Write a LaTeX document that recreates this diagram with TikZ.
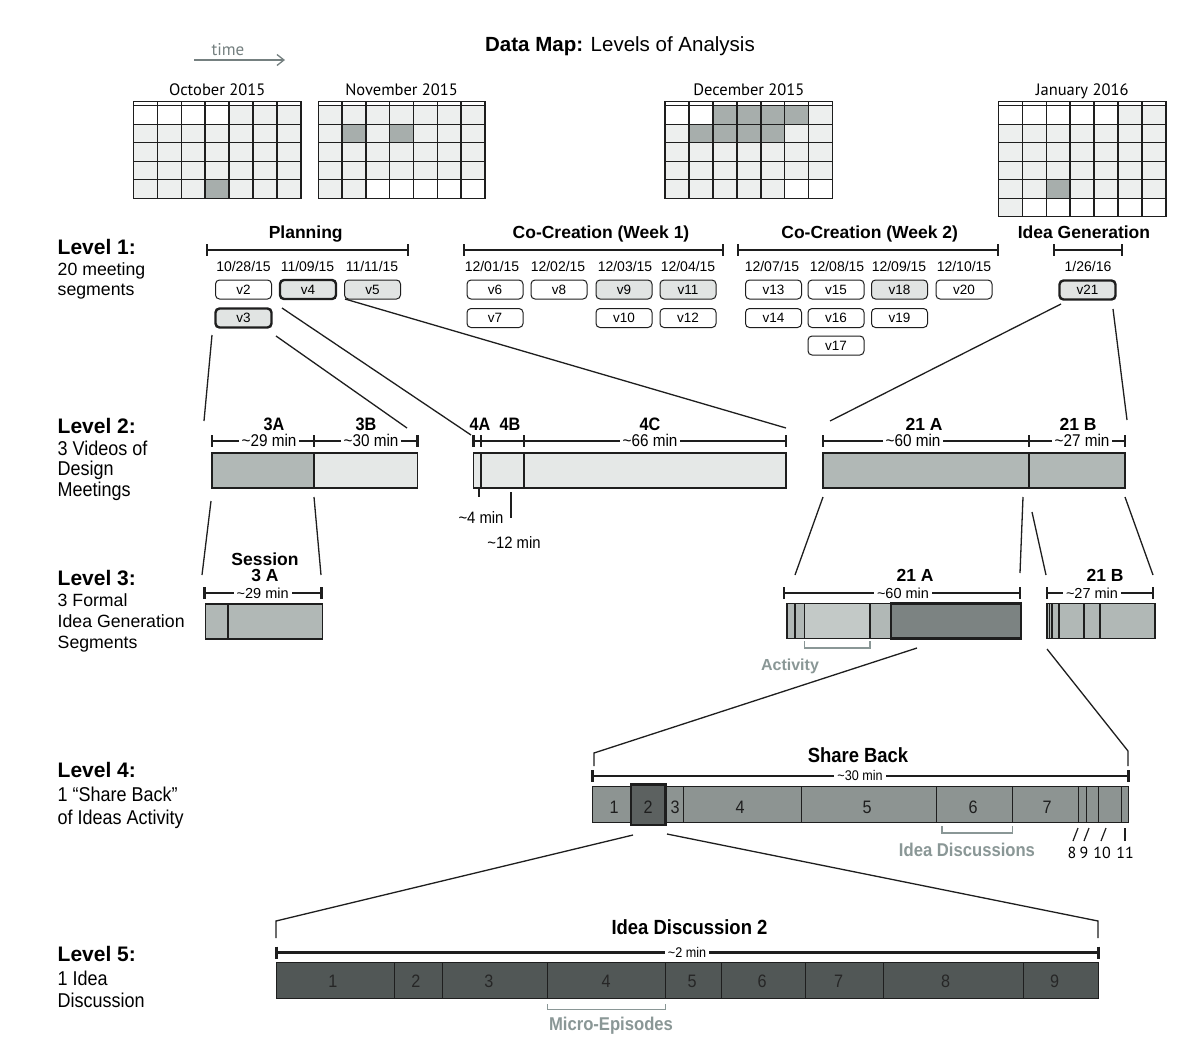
\documentclass[tikz,border=0pt]{standalone}
\usepackage{fontspec}
\setmainfont{Liberation Sans}
\newfontfamily\hvc[FakeStretch=0.9]{Liberation Sans}
\newfontfamily\myr{PT Sans}
\usetikzlibrary{arrows.meta}
\definecolor{calL}{HTML}{EDEFEE}
\definecolor{calD}{HTML}{A7AEAC}
\definecolor{boxG}{HTML}{E1E4E3}
\definecolor{barM}{HTML}{B1B8B6}
\definecolor{barL}{HTML}{E5E8E7}
\definecolor{barMid}{HTML}{C3C9C7}
\definecolor{barD}{HTML}{7C8382}
\definecolor{barF}{HTML}{8D9492}
\definecolor{barFF}{HTML}{5C6160}
\definecolor{barX}{HTML}{515756}
\definecolor{annot}{HTML}{8A9796}
\definecolor{ink}{HTML}{1E1E1E}
\tikzset{
  calline/.style={draw=ink, line width=1.4pt},
  month/.style={anchor=base, inner sep=0, font=\myr\fontsize{16.5}{16}\selectfont},
  lvl/.style={anchor=base west, inner sep=0, font=\bfseries\fontsize{21}{21}\selectfont},
  lvlsub/.style={anchor=base west, inner sep=0, font=\fontsize{17.7}{17}\selectfont},
  lvlsubc/.style={anchor=base west, inner sep=0, font=\hvc\fontsize{20}{20}\selectfont},
  phase/.style={anchor=base, inner sep=0, font=\bfseries\fontsize{17.5}{17}\selectfont},
  date/.style={anchor=base, inner sep=0, font=\fontsize{14}{14}\selectfont},
  vbox/.style={draw=ink, rounded corners=4pt, minimum width=56pt, minimum height=19pt, inner sep=0, line width=1pt, font=\fontsize{13.5}{13}\selectfont, fill=white},
  vgray/.style={vbox, fill=boxG},
  vbold/.style={line width=2.4pt},
  seg/.style={anchor=base, inner sep=0, font=\hvc\bfseries\fontsize{18}{18}\selectfont},
  segb/.style={anchor=base, inner sep=0, font=\bfseries\fontsize{17.5}{17}\selectfont},
  dur/.style={anchor=base, inner xsep=3pt, inner ysep=1pt, fill=white, font=\hvc\fontsize{17}{17}\selectfont},
  durs/.style={anchor=base, inner xsep=3pt, inner ysep=1pt, fill=white, font=\hvc\fontsize{14}{14}\selectfont},
  num/.style={anchor=base, inner sep=0, font=\hvc\fontsize{18}{18}\selectfont, text=ink},
  ann/.style={anchor=base, inner sep=0, text=annot, font=\hvc\bfseries\fontsize{18.5}{18}\selectfont},
  brk/.style={draw=ink, line width=2.6pt},
  conn/.style={draw=ink, line width=1.3pt},
  bar/.style={draw=ink, line width=1.3pt},
  divl/.style={draw=ink, line width=1.2pt},
  annbrk/.style={draw=annot, line width=1.4pt},
}
\newcommand{\drawcal}[8]{%
  \pgfmathsetmacro{\calw}{(#3-#2)/7}%
  \pgfmathsetmacro{\calb}{105.7+#4*18.5}%
  \pgfmathtruncatemacro{\calR}{#4-1}%
  \fill[white] (#2,101.7) rectangle (#3,\calb);
  \foreach \r in {1,...,#4}{%
    \foreach \c in {0,...,6}{%
      \pgfmathtruncatemacro{\dd}{(\r-1)*7+\c-#5+1}%
      \ifnum\dd>0 \ifnum\dd<\numexpr#6+1\relax
        \fill[calL] ({#2+\c*\calw},{105.7+(\r-1)*18.5}) rectangle ++(\calw,18.5);
      \fi\fi
    }%
  }%
  \foreach \d in {#7}{%
    \pgfmathtruncatemacro{\ii}{\d+#5-1}%
    \pgfmathtruncatemacro{\rr}{floor(\ii/7)}%
    \pgfmathtruncatemacro{\cc}{\ii-7*\rr}%
    \fill[calD] ({#2+\cc*\calw},{105.7+\rr*18.5}) rectangle ++(\calw,18.5);
  }%
  \foreach \c in {1,...,6}{\draw[calline] ({#2+\c*\calw},101.7) -- ({#2+\c*\calw},\calb);}%
  \foreach \r in {0,...,\calR}{\draw[calline] (#2,{105.7+\r*18.5}) -- (#3,{105.7+\r*18.5});}%
  \draw[calline] (#2,101.7) rectangle (#3,\calb);
  \node[month] (#1) at ({(#2+#3)/2},95.7) {#8};
}
\newcommand{\hbrk}[4][]{%
  \draw[brk,#1] (#2,#4) -- (#3,#4) (#2,#4-6) -- (#2,#4+6) (#3,#4-6) -- (#3,#4+6);}
\newcommand{\vtick}[3][]{\draw[brk,#1] (#2,#3-6) -- (#2,#3+6);}
\begin{document}
\begin{tikzpicture}[x=1pt,y=-1pt]
\useasboundingbox (0,0) rectangle (1200,1053);
\fill[white] (0,0) rectangle (1200,1053);

% title and time arrow
\node[anchor=base, inner sep=0, font=\fontsize{20.5}{21}\selectfont] (title) at (620,51) {\textbf{Data Map:} Levels of Analysis};
\node[anchor=base, inner sep=0, text=annot!85!black, font=\myr\fontsize{17}{17}\selectfont] (time) at (228,55) {time};
\coordinate (ta) at (194,60);
\coordinate (tb) at (285,60);
\draw[draw=annot!85!black, line width=1.3pt, -{Straight Barb[length=7pt,width=11pt]}] (ta) -- (tb);

% calendars
\drawcal{calOct}{133.3}{301}{5}{4}{31}{28}{October 2015}
\drawcal{calNov}{318.3}{485}{5}{0}{30}{9,11}{November 2015}
\drawcal{calDec}{665}{832.7}{5}{2}{31}{1,2,3,4,7,8,9,10}{December 2015}
\drawcal{calJan}{998.3}{1166}{6}{5}{31}{26}{January 2016}

% level labels
\node[lvl] (l1) at (57.5,254) {Level 1:};
\node[lvlsub] (l1a) at (57.5,275.7) {20 meeting};
\node[lvlsub] (l1b) at (57.5,295.5) {segments};
\node[lvl] (l2) at (57.5,433.3) {Level 2:};
\node[lvlsubc] (l2a) at (57.5,455) {3 Videos of};
\node[lvlsubc] (l2b) at (57.5,475.5) {Design};
\node[lvlsubc] (l2c) at (57.5,496) {Meetings};
\node[lvl] (l3) at (57.5,585) {Level 3:};
\node[lvlsub] (l3a) at (57.5,606) {3 Formal};
\node[lvlsub] (l3b) at (57.5,627.3) {Idea Generation};
\node[lvlsub] (l3c) at (57.5,648.3) {Segments};
\node[lvl] (l4) at (57.5,777.3) {Level 4:};
\node[lvlsubc] (l4a) at (57.5,801) {1 “Share Back”};
\node[lvlsubc] (l4b) at (57.5,824) {of Ideas Activity};
\node[lvl] (l5) at (57.5,961.7) {Level 5:};
\node[lvlsubc] (l5a) at (57.5,985) {1 Idea};
\node[lvlsubc] (l5b) at (57.5,1007.3) {Discussion};

% level 1 phases
\node[phase] (pPlan) at (305.7,238.5) {Planning};
\node[phase] (pW1) at (601,238.5) {Co-Creation (Week 1)};
\node[phase] (pW2) at (869.7,238.5) {Co-Creation (Week 2)};
\node[phase] (pIG) at (1084,238.5) {Idea Generation};
\hbrk{207}{408}{250}
\hbrk{463.8}{723}{250}
\hbrk{738}{998}{250}
\hbrk{1054}{1122}{250}

% dates
\node[date] (d1) at (243.5,271) {10/28/15};
\node[date] (d2) at (307.5,271) {11/09/15};
\node[date] (d3) at (372,271) {11/11/15};
\node[date] (d4) at (492,271) {12/01/15};
\node[date] (d5) at (558,271) {12/02/15};
\node[date] (d6) at (625,271) {12/03/15};
\node[date] (d7) at (688,271) {12/04/15};
\node[date] (d8) at (772,271) {12/07/15};
\node[date] (d9) at (837,271) {12/08/15};
\node[date] (d10) at (899,271) {12/09/15};
\node[date] (d11) at (964,271) {12/10/15};
\node[date] (d12) at (1088,271) {1/26/16};

% meeting boxes
\node[vbox] (v2) at (243.5,289.5) {v2};
\node[vgray,vbold] (v4) at (308,289.5) {v4};
\node[vgray] (v5) at (372.5,289.5) {v5};
\node[vgray,vbold] (v3) at (243.5,318) {v3};
\node[vbox] (v6) at (495,289.5) {v6};
\node[vbox] (v8) at (559,289.5) {v8};
\node[vgray] (v9) at (624,289.5) {v9};
\node[vgray] (v11) at (688,289.5) {v11};
\node[vbox] (v7) at (495,318) {v7};
\node[vbox] (v10) at (624,318) {v10};
\node[vbox] (v12) at (688,318) {v12};
\node[vbox] (v13) at (773.5,289.5) {v13};
\node[vbox] (v15) at (836,289.5) {v15};
\node[vgray] (v18) at (899.5,289.5) {v18};
\node[vbox] (v20) at (964,289.5) {v20};
\node[vbox] (v14) at (773.5,318) {v14};
\node[vbox] (v16) at (836,318) {v16};
\node[vbox] (v19) at (899.5,318) {v19};
\node[vbox] (v17) at (836,345.5) {v17};
\node[vgray,vbold] (v21) at (1087.5,290) {v21};

% ===== Level 2 =====
\node[seg] (s3A) at (274,430) {3A};
\node[seg] (s3B) at (366,430) {3B};
\node[seg] (s4A) at (480,430) {4A};
\node[seg] (s4B) at (510,430) {4B};
\node[seg] (s4C) at (650,430) {4C};
\node[segb] (s21A) at (924,430.5) {21 A};
\node[segb] (s21B) at (1078,430.5) {21 B};
\hbrk{212}{417.5}{441}
\vtick{314}{441}
\hbrk{473.7}{786}{441}
\vtick{481}{441}
\vtick{524}{441}
\hbrk{823}{1125}{441}
\vtick{1029}{441}
\node[dur] (m29) at (269,446.5) {\textasciitilde 29 min};
\node[dur] (m30) at (371,446.5) {\textasciitilde 30 min};
\node[dur] (m66) at (650,446.5) {\textasciitilde 66 min};
\node[dur] (m60) at (913,446.5) {\textasciitilde 60 min};
\node[dur] (m27) at (1082,446.5) {\textasciitilde 27 min};
% bars
\fill[barM] (212,453) rectangle (314,488);
\fill[barL] (314,453) rectangle (417.5,488);
\draw[bar] (212,453) rectangle (417.5,488);
\draw[divl] (314,453) -- (314,488);
\fill[barL] (473.7,453) rectangle (786,488);
\draw[bar] (473.7,453) rectangle (786,488);
\draw[divl] (481,453) -- (481,488);
\draw[divl] (524,453) -- (524,488);
\fill[barM] (823,453) rectangle (1125,488);
\draw[bar] (823,453) rectangle (1125,488);
\draw[draw=ink, line width=2pt] (1029,453) -- (1029,488);
% small ticks below 4
\coordinate (t4a) at (479,489);
\coordinate (t4b) at (479,497);
\coordinate (t12a) at (511,492);
\coordinate (t12b) at (511,518);
\draw[divl] (t4a) -- (t4b);
\draw[divl] (t12a) -- (t12b);
\node[anchor=base, inner sep=0, font=\hvc\fontsize{16.5}{16}\selectfont] (m4) at (481,523) {\textasciitilde 4 min};
\node[anchor=base, inner sep=0, font=\hvc\fontsize{16.5}{16}\selectfont] (m12) at (514,548) {\textasciitilde 12 min};

% ===== Level 3 =====
\node[segb] (sess) at (265,565) {Session};
\node[segb] (sess3A) at (265,581.7) {3 A};
\hbrk{204.3}{321.7}{593}
\node[dur, font=\fontsize{14.5}{14}\selectfont] (m29b) at (262.7,598) {\textasciitilde 29 min};
\fill[barM] (205.7,604) rectangle (322.7,639);
\draw[bar] (205.7,604) rectangle (322.7,639);
\draw[draw=ink, line width=1.8pt] (228.3,604) -- (228.3,639);

\node[segb] (t21A) at (915,581.7) {21 A};
\node[segb] (t21B) at (1105,581.7) {21 B};
\hbrk{784}{1020}{593}
\hbrk{1047}{1153}{593}
\node[dur, font=\fontsize{14.5}{14}\selectfont] (m60b) at (903,598) {\textasciitilde 60 min};
\node[dur, font=\fontsize{14.5}{14}\selectfont] (m27b) at (1092,598) {\textasciitilde 27 min};
\fill[barM] (787,603.5) rectangle (1021,638.5);
\fill[barMid] (804.3,603.5) rectangle (870,638.5);
\draw[bar] (787,603.5) rectangle (1021,638.5);
\draw[divl] (795,603.5) -- (795,638.5);
\draw[divl] (804.3,603.5) -- (804.3,638.5);
\draw[divl] (870,603.5) -- (870,638.5);
\fill[barD] (891,603.5) rectangle (1021,638.5);
\draw[draw=ink, line width=2.8pt] (891,603.5) rectangle (1021,638.5);
\fill[barM] (1047,603.5) rectangle (1155,638.5);
\draw[bar] (1047,603.5) rectangle (1155,638.5);
\foreach \xx in {1049.5,1052,1059,1084,1100} \draw[divl] (\xx,603.5) -- (\xx,638.5);
% activity
\draw[annbrk] (804.3,641) -- (804.3,648) -- (870,648) -- (870,641);
\node[anchor=base, inner sep=0, text=annot, font=\bfseries\fontsize{16}{16}\selectfont] (act) at (790,670) {Activity};

% ===== Level 4 =====
\node[anchor=base, inner sep=0, font=\hvc\bfseries\fontsize{20.5}{20}\selectfont] (shb) at (858,762) {Share Back};
\hbrk{592.7}{1128.7}{776}
\node[durs] (m30b) at (860,780.5) {\textasciitilde 30 min};
\fill[barF] (592.7,786.7) rectangle (1128.7,822.7);
\draw[bar] (592.7,786.7) rectangle (1128.7,822.7);
\foreach \xx in {683.6,801.5,936.7,1012.4,1078.5,1086.7,1098.3,1121.7} \draw[divl] (\xx,786.7) -- (\xx,822.7);
\fill[barFF] (631,784.5) rectangle (665.5,825);
\draw[draw=ink, line width=2.6pt] (631,784.5) rectangle (665.5,825);
\node[num] (n41) at (614,813.5) {1};
\node[num] (n42) at (648,813.5) {2};
\node[num] (n43) at (675,813.5) {3};
\node[num] (n44) at (740,813.5) {4};
\node[num] (n45) at (867,813.5) {5};
\node[num] (n46) at (973,813.5) {6};
\node[num] (n47) at (1047,813.5) {7};
\draw[annbrk] (942,826) -- (942,833) -- (1012.4,833) -- (1012.4,826);
\node[ann] (idisc) at (967,856) {Idea Discussions};
\draw[divl] (1073,841) -- (1078,828);
\draw[divl] (1084,841) -- (1089,828);
\draw[divl] (1101,841) -- (1106,828);
\draw[divl] (1125,841) -- (1125,828);
\node[anchor=base, inner sep=0, font=\myr\fontsize{16}{16}\selectfont] (n8) at (1072,858) {8};
\node[anchor=base, inner sep=0, font=\myr\fontsize{16}{16}\selectfont] (n9) at (1084,858) {9};
\node[anchor=base, inner sep=0, font=\myr\fontsize{16}{16}\selectfont] (n10) at (1102,858) {10};
\node[anchor=base, inner sep=0, font=\myr\fontsize{16}{16}\selectfont] (n11) at (1125,858) {11};

% ===== Level 5 =====
\node[anchor=base, inner sep=0, font=\hvc\bfseries\fontsize{20.5}{20}\selectfont] (id2) at (689.5,934) {Idea Discussion 2};
\hbrk{276.4}{1098.2}{952.7}
\node[durs] (m2) at (687,957) {\textasciitilde 2 min};
\fill[barX] (276.4,962.7) rectangle (1098.2,998.3);
\draw[bar] (276.4,962.7) rectangle (1098.2,998.3);
\foreach \xx in {394.2,442.2,547.6,665.5,721.5,805.8,883.6,1023.3} \draw[divl] (\xx,962.7) -- (\xx,998.3);
\foreach \xx/\nn in {333/1,416/2,489/3,606/4,692/5,762/6,838.5/7,945.5/8,1054.5/9}
  \node[num, text=black!85] (m5n\nn) at (\xx,987) {\nn};
\draw[annbrk] (547.6,1004) -- (547.6,1009.3) -- (665.5,1009.3) -- (665.5,1004);
\node[ann] (micro) at (611,1030) {Micro-Episodes};

% ===== connectors =====
\coordinate (a1) at (212,335);  \coordinate (b1) at (204,421);
\coordinate (a2) at (276,336);  \coordinate (b2) at (407,428);
\coordinate (a3) at (282,308);  \coordinate (b3) at (471,435);
\coordinate (a4) at (345,299);  \coordinate (b4) at (786,428);
\coordinate (a5) at (1061,304); \coordinate (b5) at (830,421);
\coordinate (a6) at (1113,309); \coordinate (b6) at (1127,420);
\draw[conn] (a1) -- (b1);
\draw[conn] (a2) -- (b2);
\draw[conn] (a3) -- (b3);
\draw[conn] (a4) -- (b4);
\draw[conn] (a5) -- (b5);
\draw[conn] (a6) -- (b6);

\coordinate (e1) at (211,501);  \coordinate (f1) at (202,575);
\coordinate (e2) at (314,497);  \coordinate (f2) at (321,575);
\coordinate (e3) at (823,497);  \coordinate (f3) at (795,575);
\coordinate (e4) at (1023,497); \coordinate (f4) at (1020,573);
\coordinate (e5) at (1032,512); \coordinate (f5) at (1046,575);
\coordinate (e6) at (1125,497); \coordinate (f6) at (1153,575);
\draw[conn] (e1) -- (f1);
\draw[conn] (e2) -- (f2);
\draw[conn] (e3) -- (f3);
\draw[conn] (e4) -- (f4);
\draw[conn] (e5) -- (f5);
\draw[conn] (e6) -- (f6);

\coordinate (g1) at (917,648);  \coordinate (h1) at (594,753);  \coordinate (k1) at (594,766);
\coordinate (g2) at (1047,649); \coordinate (h2) at (1128,751); \coordinate (k2) at (1128,766);
\draw[conn] (g1) -- (h1) -- (k1);
\draw[conn] (g2) -- (h2) -- (k2);

\coordinate (p1) at (633,835);  \coordinate (q1) at (276,921);  \coordinate (r1) at (276,938);
\coordinate (p2) at (667,834);  \coordinate (q2) at (1098,921); \coordinate (r2) at (1098,938);
\draw[conn] (p1) -- (q1) -- (r1);
\draw[conn] (p2) -- (q2) -- (r2);
\end{tikzpicture}
\end{document}
